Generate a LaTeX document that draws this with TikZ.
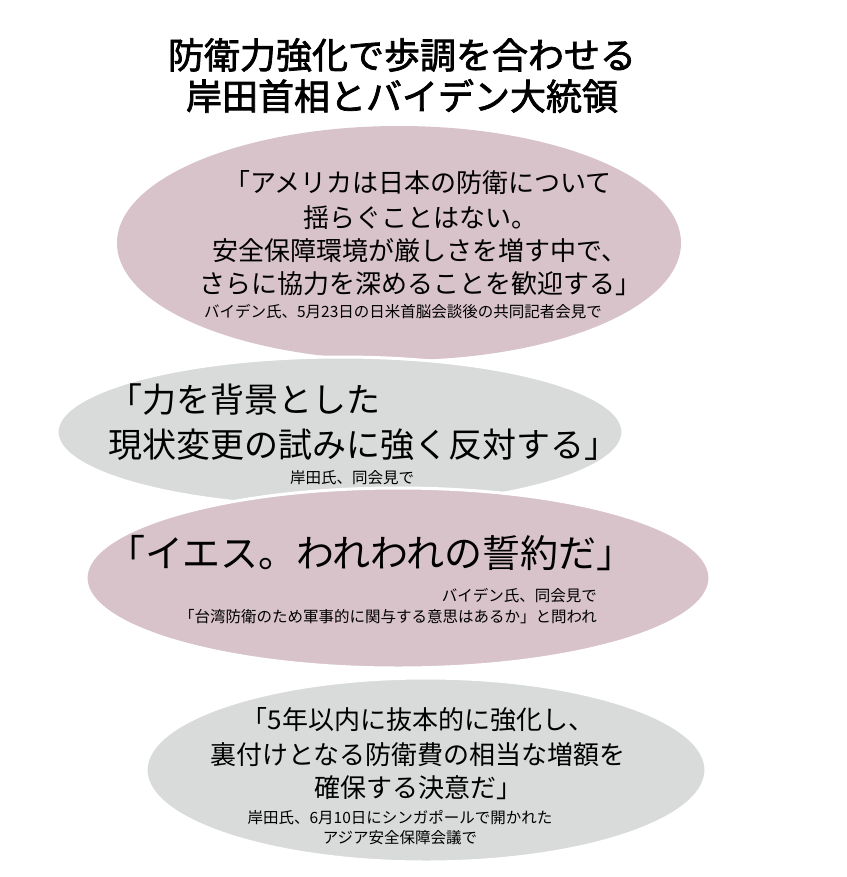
\documentclass[tikz,border=0pt]{standalone}
\usepackage{fontspec}
\setmainfont{Noto Sans CJK JP}
\newfontfamily\jpb{Noto Sans CJK JP}[FakeBold=2]
\definecolor{pk}{HTML}{D8C3CA}
\definecolor{gy}{HTML}{D9DADA}
\tikzset{
 bub/.style={draw=white,line width=3pt},
 q/.style={inner sep=0pt,font=\fontsize{26}{30}\selectfont},
 qb/.style={inner sep=0pt,font=\fontsize{34}{38}\selectfont},
 qc/.style={inner sep=0pt,font=\fontsize{38}{40}\selectfont},
 captxt/.style={inner sep=0pt,font=\fontsize{15.5}{18}\selectfont},
 ttl/.style={inner sep=0pt,font=\jpb\fontsize{36}{38}\selectfont}
}
\begin{document}
\begin{tikzpicture}[x=1pt,y=-1pt]
\useasboundingbox[fill=white] (0,0) rectangle (846,877);
\node[ttl] (t1) at (402,55) {防衛力強化で歩調を合わせる};
\node[ttl] (t2) at (402,96) {岸田首相とバイデン大統領};
\fill[pk] (399,243) ellipse [x radius=282,y radius=117];
\draw[bub,fill=gy] (340,432) ellipse [x radius=283,y radius=75];
\draw[bub,fill=pk] (398,578) ellipse [x radius=312,y radius=90];
\draw[bub,fill=gy] (426,770) ellipse [x radius=280,y radius=92];
\node[q] (a1) at (418,183) {「アメリカは日本の防衛について};
\node[q] (a2) at (420,218) {揺らぐことはない。};
\node[q] (a3) at (420,251) {安全保障環境が厳しさを増す中で、};
\node[q] (a4) at (420,284) {さらに協力を深めることを歓迎する」};
\node[captxt] (a5) at (403,312) {バイデン氏、5月23日の日米首脳会談後の共同記者会見で};
\node[qb,anchor=west] (b1) at (108,400) {「力を背景とした};
\node[qb,anchor=west] (b2) at (108,445) {現状変更の試みに強く反対する」};
\node[captxt] (b3) at (352,478) {岸田氏、同会見で};
\node[qc] (c1) at (371,553) {「イエス。われわれの誓約だ」};
\node[captxt,anchor=east] (c2) at (597,596) {バイデン氏、同会見で};
\node[captxt,anchor=east] (c3) at (597,617) {「台湾防衛のため軍事的に関与する意思はあるか」と問われ};
\node[q] (d1) at (418,720) {「5年以内に抜本的に強化し、};
\node[q] (d2) at (418,755) {裏付けとなる防衛費の相当な増額を};
\node[q] (d3) at (418,788) {確保する決意だ」};
\node[captxt] (d4) at (400,818) {岸田氏、6月10日にシンガポールで開かれた};
\node[captxt] (d5) at (400,838) {アジア安全保障会議で};
\end{tikzpicture}
\end{document}
